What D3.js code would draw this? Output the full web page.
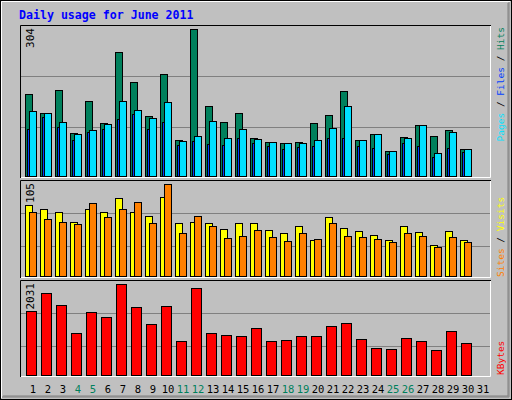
<!DOCTYPE html>
<html><head><meta charset="utf-8">
<script src="https://cdn.jsdelivr.net/npm/d3@7"></script>
<style>body{margin:0;background:#fff}</style></head>
<body><svg id="c" width="512" height="400"></svg>
<script>
const days = d3.range(1, 32);
const weekend = [4,5,11,12,18,19,25,26];
const hits  = [170,130,178,89,155,110,256,194,124,211,74,304,145,112,130,79,70,68,70,110,126,176,74,87,52,81,105,83,95,56,0];
const files = [97,122,101,74,91,97,118,128,97,112,64,72,66,64,79,68,62,56,60,62,79,79,62,58,45,68,62,39,58,50,0];
const pages = [134,130,112,87,95,107,155,136,120,153,72,83,114,79,97,76,70,68,68,74,99,145,74,87,52,79,105,48,91,56,0];
const visits = [81,76,73,62,77,73,89,73,69,90,61,62,61,54,61,61,52,49,57,41,67,55,51,47,41,57,50,35,51,41,0];
const sites  = [73,65,62,59,83,67,77,84,60,105,49,69,57,43,46,53,44,40,49,42,61,46,45,42,39,49,46,33,45,39,0];
const kbytes = [1427,1830,1561,934,1404,1292,2031,1516,1135,1539,755,1942,934,889,867,1046,755,777,867,867,1091,1158,800,598,576,822,755,553,979,710,0];
const yMax = {hits:304, visits:105, kbytes:2031};

const svg = d3.select("#c");
const mono = "DejaVu Sans Mono";
svg.append("rect").attr("width",512).attr("height",400).attr("fill","#c0c0c0");
// 3D frame
svg.append("rect").attr("x",0.5).attr("y",0.5).attr("width",511).attr("height",399).attr("fill","none").attr("stroke","#000");
svg.append("path").attr("d","M1.5,398V1.5H510").attr("stroke","#fff").attr("fill","none");
svg.append("path").attr("d","M509,2V397H2M508,3V396H3").attr("stroke","#808080").attr("fill","none");

svg.append("text").attr("x",19).attr("y",19).attr("font-family",mono).attr("font-weight","bold")
  .attr("font-size",11.6).attr("fill","#0000ff").text("Daily usage for June 2011");

const x = d3.scaleLinear().domain([1,31]).range([25,475]);
const panels = [
  {top:25, bot:178, base:176, maxY:29, max:yMax.hits, grid:[76,127]},
  {top:180, bot:278, base:276, maxY:184, max:yMax.visits, grid:[213,246]},
  {top:280, bot:377, base:375, maxY:284, max:yMax.kbytes, grid:[313,346]}
];
panels.forEach(p=>{
  p.y = d3.scaleLinear().domain([0,p.max]).range([p.base,p.maxY]);
  p.grid.forEach(g=>svg.append("line").attr("x1",21).attr("x2",490).attr("y1",g+0.5).attr("y2",g+0.5).attr("stroke","#808080"));
  svg.append("path").attr("d",`M20.5,${p.bot}V${p.top+0.5}H491`).attr("stroke","#000").attr("fill","none");
  svg.append("path").attr("d",`M490.5,${p.top+1}V${p.bot-0.5}H21`).attr("stroke","#fff").attr("fill","none");
  svg.append("text").attr("transform",`translate(34,${p.maxY-1}) rotate(-90)`).attr("text-anchor","end")
    .attr("font-family",mono).attr("font-size",11).attr("fill","#000").text(p.max);
});

function bars(p, data, off, w, color){
  svg.append("g").selectAll("rect").data(data.map((v,i)=>({v,d:i+1})).filter(o=>o.v>0)).join("rect")
    .attr("x",o=>x(o.d)+off+0.5).attr("width",w)
    .attr("y",o=>Math.round(p.y(o.v))+0.5).attr("height",o=>p.base-Math.round(p.y(o.v)))
    .attr("fill",color).attr("stroke","#000");
}
bars(panels[0], hits, 0, 7, "#00805c");
bars(panels[0], files, 2, 7, "#0040ff");
bars(panels[0], pages, 4, 7, "#00e0ff");
bars(panels[1], visits, 0, 7, "#ffff00");
bars(panels[1], sites, 4, 7, "#ff8000");
bars(panels[2], kbytes, 1, 10, "#ff0000");

svg.append("g").selectAll("text").data(days).join("text")
  .attr("x",d=>x(d)+8).attr("y",393).attr("text-anchor","middle")
  .attr("font-family",mono).attr("font-size",10.5)
  .attr("fill",d=>weekend.includes(d)?"#00805c":"#000").text(d=>d);

function legend(parts, yPos, anchor){
  const t = svg.append("text").attr("transform",`translate(504,${yPos}) rotate(-90)`)
    .attr("text-anchor",anchor).attr("font-family",mono).attr("font-size",9.5);
  parts.forEach(([s,c])=>t.append("tspan").attr("fill",c).text(s));
}
legend([["Pages","#00e0ff"],[" / ","#000"],["Files","#0040ff"],[" / ","#000"],["Hits","#00805c"]],27,"end");
legend([["Sites","#ff8000"],[" / ","#000"],["Visits","#ffff00"]],277,"start");
legend([["KBytes","#ff0000"]],375,"start");
</script></body></html>
